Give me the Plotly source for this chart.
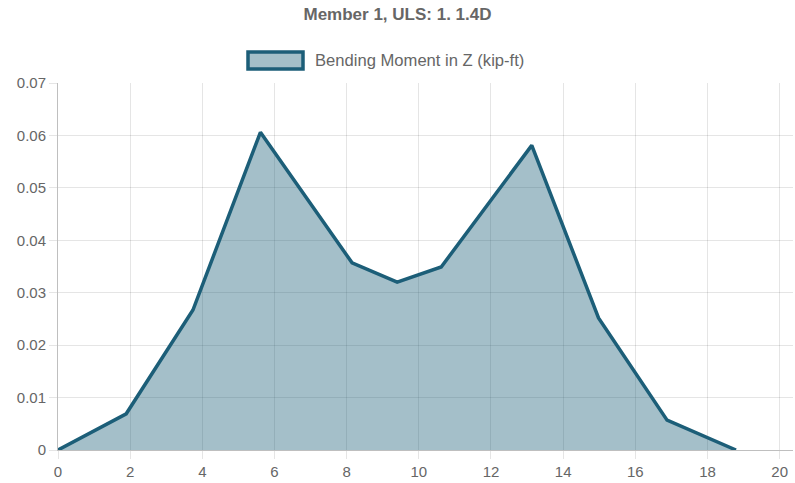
import plotly.graph_objects as go

x_vals = [0, 1.89, 3.74, 5.61, 8.15, 9.4, 10.62, 13.13, 14.98, 16.88, 18.79]
moment_z = [0, 0.0069, 0.0267, 0.0606, 0.0357, 0.0320, 0.0349, 0.0581, 0.0252, 0.0057, 0]
x_ticks = list(range(0, 21, 2))
y_ticks = [0, 0.01, 0.02, 0.03, 0.04, 0.05, 0.06, 0.07]
y_tick_labels = ["0", "0.01", "0.02", "0.03", "0.04", "0.05", "0.06", "0.07"]
series_name = "Bending Moment in Z (kip-ft)"

line_color = "rgb(28,94,120)"
fill_color = "rgba(28,94,120,0.4)"
font_family = "Liberation Sans, Arial, sans-serif"

W, H = 795, 483
fig = go.Figure()
fig.add_trace(go.Scatter(
    x=x_vals, y=moment_z, mode="lines", name=series_name, showlegend=False,
    line=dict(color=line_color, width=3.5), fill="tozeroy", fillcolor=fill_color,
))

# legend swatch (Chart.js style box) and label
fig.add_shape(type="rect", xref="paper", yref="paper",
              x0=(248 - 58) / 735, x1=(303 - 58) / 735,
              y0=(450 - 69) / 367, y1=(450 - 52) / 367,
              line=dict(color=line_color, width=3.5), fillcolor="rgba(28,94,120,0.4)")
fig.add_annotation(text=series_name, xref="paper", yref="paper",
                   x=(313 - 58) / 735, y=(450 - 60) / 367, xanchor="left", yanchor="middle",
                   showarrow=False, font=dict(size=16.6, color="#666666"))

fig.update_layout(
    width=W, height=H,
    margin=dict(l=58, r=2, t=83, b=33, autoexpand=False),
    paper_bgcolor="white", plot_bgcolor="white",
    font=dict(family=font_family, color="#666666"),
    title=dict(text="<b>Member 1, ULS: 1. 1.4D</b>", x=0.5, xanchor="center",
               y=1 - 14 / H, yanchor="middle", font=dict(size=17, color="#666666")),
    showlegend=False,
)
fig.update_xaxes(range=[0, 20.37], tickvals=x_ticks, showgrid=True, gridcolor="rgba(0,0,0,0.1)",
                 zeroline=False, showline=True, linecolor="rgba(0,0,0,0.25)",
                 ticks="outside", ticklen=8, tickcolor="rgba(0,0,0,0.1)", automargin=False,
                 tickfont=dict(size=15, color="#666666"))
fig.update_yaxes(range=[0, 0.07], tickvals=y_ticks, ticktext=y_tick_labels, showgrid=True,
                 gridcolor="rgba(0,0,0,0.1)", zeroline=False, showline=True,
                 linecolor="rgba(0,0,0,0.25)", ticks="outside", ticklen=8, automargin=False,
                 tickcolor="rgba(0,0,0,0.1)", tickfont=dict(size=15, color="#666666"))

fig.write_html("out.html", config={"displayModeBar": False},
               post_script="document.body.style.margin='0';")
